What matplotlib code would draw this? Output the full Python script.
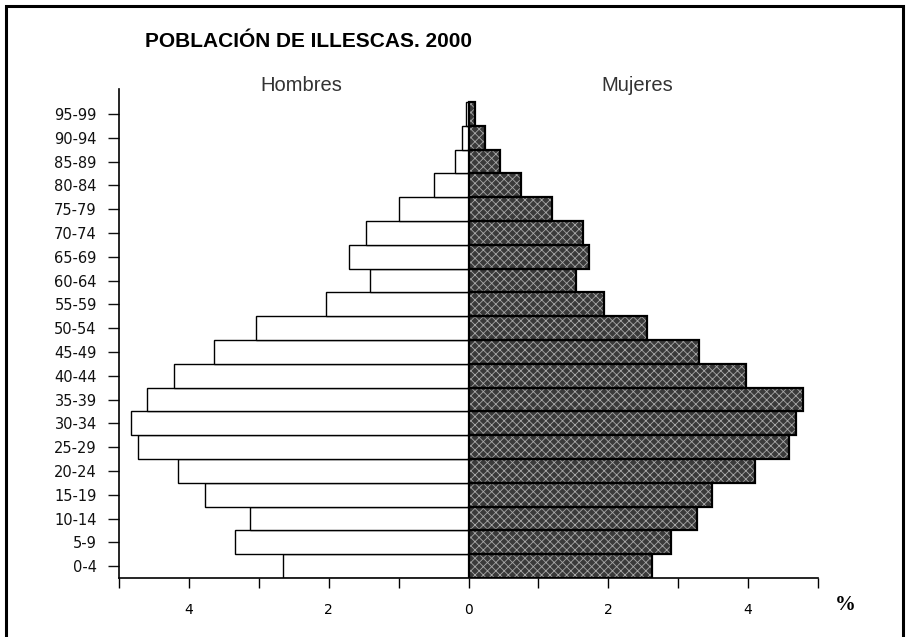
import numpy as np
import matplotlib
matplotlib.use("Agg")
import matplotlib.pyplot as plt
from matplotlib.patches import Rectangle

# --- Data: population pyramid of Illescas, 2000 (% of total) ---
grupos = ["0-4", "5-9", "10-14", "15-19", "20-24", "25-29", "30-34", "35-39",
          "40-44", "45-49", "50-54", "55-59", "60-64", "65-69", "70-74",
          "75-79", "80-84", "85-89", "90-94", "95-99"]
hombres = [2.65, 3.34, 3.12, 3.77, 4.16, 4.73, 4.83, 4.60, 4.22, 3.64,
           3.04, 2.04, 1.41, 1.71, 1.47, 0.99, 0.50, 0.20, 0.10, 0.03]
mujeres = [2.63, 2.89, 3.27, 3.48, 4.10, 4.59, 4.68, 4.78, 3.97, 3.30,
           2.55, 1.94, 1.54, 1.73, 1.64, 1.20, 0.75, 0.45, 0.23, 0.09]
xticks = list(range(-5, 6))
xtick_labels = ["" if v % 2 else str(abs(v)) for v in xticks]

plt.rcParams["hatch.linewidth"] = 0.6

fig = plt.figure(figsize=(9.06, 6.37), dpi=100, facecolor="white")
ax = fig.add_axes([119 / 906, 1 - 578 / 637, 699 / 906, 489 / 637])

y = np.arange(len(grupos))

# men: white bars to the left
ax.barh(y, [-v for v in hombres], height=1.0, color="white",
        edgecolor="black", linewidth=1.0, zorder=2)

# women: dark speckled bars to the right (hatch layer + outline layer)
ax.barh(y, mujeres, height=1.0, color="#3a3a3a", edgecolor="#a8a8a8",
        linewidth=0, hatch="xxxx", zorder=2)
ax.barh(y, mujeres, height=1.0, color="none", edgecolor="black",
        linewidth=1.6, zorder=3)

ax.set_xlim(-5, 5)
ax.set_ylim(-0.5, 20.05)

ax.set_xticks(xticks)
ax.set_xticklabels(xtick_labels)
ax.set_yticks(y)
ax.set_yticklabels(grupos)

ax.tick_params(axis="x", direction="out", length=7, width=1, pad=11,
               labelsize=10, colors="black")
ax.tick_params(axis="y", direction="out", length=8, width=1, pad=8,
               labelsize=10.5, colors="#111111")

for s in ["top", "right"]:
    ax.spines[s].set_visible(False)
for s in ["left", "bottom"]:
    ax.spines[s].set_linewidth(1.2)

# titles / headers
fig.text(145 / 906, 1 - 47 / 637, "POBLACIÓN DE ILLESCAS. 2000",
         fontsize=15, fontweight="bold", family="Liberation Sans",
         ha="left", va="baseline")
fig.text(301 / 906, 1 - 91 / 637, "Hombres", fontsize=14.5,
         family="Liberation Sans", color="#333333", ha="center", va="baseline")
fig.text(637 / 906, 1 - 91 / 637, "Mujeres", fontsize=14.5,
         family="Liberation Sans", color="#333333", ha="center", va="baseline")
fig.text(845 / 906, 1 - 605 / 637, "%", fontsize=15, fontweight="bold",
         family="Liberation Serif", ha="center", va="center")

# outer frame (left, top, right edges; bottom runs off the page)
fig.add_artist(Rectangle((6 / 906, -0.1), 897 / 906, 1.1 - 6 / 637,
                         transform=fig.transFigure, fill=False,
                         edgecolor="black", linewidth=2.2))

fig.savefig("out.png", dpi=100, facecolor="white")
